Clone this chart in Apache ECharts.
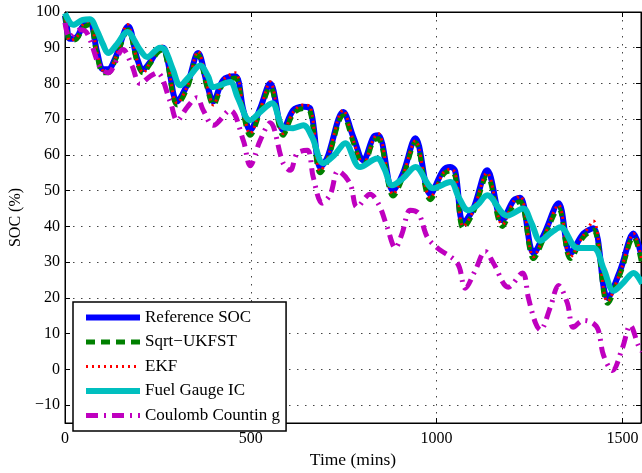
<!DOCTYPE html>
<html>
<head>
<meta charset="utf-8">
<script src="https://cdn.jsdelivr.net/npm/echarts@6/dist/echarts.min.js"></script>
<style>
  html, body { margin: 0; padding: 0; background: #fff; }
  #main { width: 642px; height: 473px; }
</style>
</head>
<body>
<div id="main"></div>
<script>
// [time (mins), SOC (%)]
var refSoc = [[0,99],[5,96],[13,92.5],[32,93],[48,96],[67,97],[86,89],[102,84],[116,84],[135,87],[170,96],[194,87],[210,84],[229,86],[248,89],[264,90],[275,87],[302,75],[330,80],[358,88.5],[382,80],[399,75],[426,81],[458,82],[480,72.5],[498,67],[525,73],[552,80],[587,67],[614,72.5],[641,73.5],[660,73],[687,56.6],[705,59],[749,72],[776,65],[803,58.5],[830,65],[843,65.5],[883,50],[910,55],[943,64.7],[983,49],[1018,55.7],[1037,56.6],[1050,55.5],[1072,41],[1099,45],[1136,55.7],[1177,41.7],[1207,47.3],[1225,48],[1261,32.5],[1290,38],[1328,46.5],[1360,32.5],[1395,38],[1422,39.5],[1460,20],[1495,28],[1530,38],[1553,31]];
var sqrtUkf = [[0,99],[5,95.5],[13,92],[32,92.5],[48,95.5],[67,96.5],[86,88],[102,83],[116,83],[135,86.5],[170,95],[194,86],[210,83],[229,85.5],[248,88.5],[264,89.5],[275,86],[302,74],[330,79],[358,88],[382,79],[399,74],[426,80],[458,81.5],[480,71.5],[498,65.5],[525,72],[552,79],[587,65.5],[614,71.5],[641,73],[660,72],[687,55],[705,58],[749,71],[776,63.5],[803,57],[830,64],[843,64.5],[883,48.5],[910,54],[943,63.5],[983,47.5],[1018,54.5],[1037,55.5],[1050,54],[1072,39.5],[1099,44],[1136,54],[1177,40],[1207,46],[1225,47],[1261,31],[1290,37],[1328,45],[1360,31],[1395,37],[1422,39],[1460,18.5],[1495,27],[1530,37],[1553,29]];
var ekf = [[0,99.5],[5,96],[13,92],[32,93],[48,96.5],[67,97.5],[86,88.5],[102,83.5],[116,83],[135,87],[168,96.5],[194,86.5],[210,83],[229,86],[248,89.5],[264,90.5],[275,86.5],[302,74.5],[330,79.5],[358,89],[382,79.5],[399,74],[426,81],[458,83],[480,72],[498,66],[525,72.5],[552,80.5],[587,66],[614,72],[641,74],[660,73.5],[687,55.5],[705,58.5],[749,72.5],[776,64],[803,57.5],[830,64.5],[843,66],[883,49],[910,54.5],[943,64],[983,48],[1018,55],[1037,56],[1050,55],[1072,40],[1099,44.5],[1136,55],[1177,40.5],[1207,47],[1225,48.5],[1261,31.5],[1290,37.5],[1328,46],[1360,31.5],[1395,37.5],[1422,41.5],[1460,19],[1495,27.5],[1530,38],[1553,30]];
var fuelGauge = [[0,99.7],[22,96.4],[48,97.8],[67,98],[85,95],[102,91],[116,88.5],[140,91],[167,94.4],[202,89.4],[221,87.4],[256,90],[269,89.4],[290,84],[310,79.5],[335,82],[364,85],[385,82],[399,79],[444,80.4],[465,76],[498,69.7],[525,72],[557,74.5],[587,67.8],[614,67.5],[641,68.3],[665,65],[695,57.7],[725,60],[754,63.3],[794,56.6],[840,59],[860,56],[880,51.5],[910,53.5],[943,56.6],[991,50.7],[1037,52.4],[1060,48],[1085,44.5],[1110,46],[1136,48.7],[1190,43],[1233,45],[1255,41],[1279,36],[1305,38],[1333,39.8],[1379,34],[1422,34],[1450,28],[1476,22],[1500,24],[1530,27],[1553,24]];
var coulomb = [[0,97],[13,93],[40,95],[60,94],[94,84.6],[116,83],[156,89.5],[180,85],[202,80],[229,82],[248,83],[283,75],[302,69.7],[329,73.4],[355,76],[372,72.5],[399,68.3],[444,72.5],[480,64],[498,57],[525,64],[552,69],[587,57.7],[606,55.7],[625,60.5],[652,61.3],[668,53.8],[692,46.5],[714,49],[735,55.5],[767,52],[786,45.4],[821,49],[845,46],[867,39.8],[889,34],[907,38],[929,44.5],[951,43.7],[975,37],[1002,34],[1056,29.7],[1077,22.7],[1104,27.7],[1131,33],[1153,29.7],[1193,23],[1231,27],[1247,20],[1266,13],[1279,11],[1306,17.4],[1328,23.5],[1352,18.5],[1368,11.8],[1395,13.7],[1420,13],[1435,11],[1449,4],[1473,-0.3],[1500,6],[1521,12.3],[1543,6.7],[1553,5]];

var seriesNames = ['Reference SOC', 'Sqrt\u2212UKFST', 'EKF', 'Fuel Gauge IC', 'Coulomb Countin g'];
var yTicks = [-10, 0, 10, 20, 30, 40, 50, 60, 70, 80, 90, 100];

var FONT = 'Liberation Serif';
var chart = echarts.init(document.getElementById('main'), null, { renderer: 'canvas' });

var styles = [
  { color: '#0000ff', width: 6, type: 'solid' },
  { color: '#008000', width: 5, type: [9, 6] },
  { color: '#ff0000', width: 3, type: [2, 4] },
  { color: '#00bfbf', width: 6, type: 'solid' },
  { color: '#bf00bf', width: 5, type: [12, 6, 2, 6] }
];
var datas = [refSoc, sqrtUkf, ekf, fuelGauge, coulomb];

var series = seriesNames.map(function (name, i) {
  return {
    name: name,
    type: 'line',
    data: datas[i],
    symbol: 'none',
    smooth: 0.35,
    xAxisIndex: 0,
    yAxisIndex: 0,
    lineStyle: { color: styles[i].color, width: styles[i].width, type: styles[i].type },
    itemStyle: { color: styles[i].color },
    z: 2 + i,
    animation: false
  };
});

function minusFmt(v) {
  return String(v).replace('-', '\u2212');
}

var tickStyle = { show: true, inside: true, length: 5, lineStyle: { color: '#000' } };
var lineStyleAxis = { show: true, onZero: false, lineStyle: { color: '#000', width: 1 } };
var gridDots = { show: true, lineStyle: { color: '#444', width: 1, type: [1.5, 6.5] } };

var option = {
  backgroundColor: '#fff',
  animation: false,
  grid: {
    left: 65, top: 12, right: 1, bottom: 50,
    outerBoundsMode: 'none',
    show: true, borderColor: '#000', borderWidth: 1
  },
  legend: {
    left: 73, top: 302,
    orient: 'vertical',
    itemWidth: 54, itemHeight: 14, itemGap: 7.5,
    padding: [7, 6, 7, 10],
    borderColor: '#000', borderWidth: 1.5,
    backgroundColor: '#fff',
    textStyle: { fontFamily: FONT, fontSize: 17, color: '#000' },
    data: seriesNames.map(function (n, i) {
      return {
        name: n,
        itemStyle: { opacity: 0 },
        lineStyle: { width: styles[i].width, type: styles[i].type, color: styles[i].color }
      };
    })
  },
  xAxis: [{
    type: 'value', min: 0, max: 1550, interval: 500,
    name: 'Time (mins)', nameLocation: 'middle', nameGap: 27,
    nameTextStyle: { fontFamily: FONT, fontSize: 17.5, color: '#000' },
    axisLine: lineStyleAxis, axisTick: tickStyle,
    axisLabel: { fontFamily: FONT, fontSize: 16, color: '#000', margin: 8, showMaxLabel: false,
      formatter: function (v) { return String(v); } },
    splitLine: gridDots
  }, {
    type: 'value', min: 0, max: 1550, interval: 500, position: 'top',
    axisLine: lineStyleAxis, axisTick: tickStyle,
    axisLabel: { show: false }, splitLine: { show: false }
  }],
  yAxis: [{
    type: 'value', min: -15, max: 100,
    name: 'SOC (%)', nameLocation: 'middle', nameGap: 40, nameRotate: 90,
    nameTextStyle: { fontFamily: FONT, fontSize: 16, color: '#000' },
    axisLine: lineStyleAxis,
    axisTick: { show: true, inside: true, length: 5, lineStyle: { color: '#000' }, customValues: yTicks },
    axisLabel: { fontFamily: FONT, fontSize: 16, color: '#000', margin: 5, customValues: yTicks, formatter: minusFmt },
    splitLine: gridDots
  }, {
    type: 'value', min: -15, max: 100, position: 'right',
    axisLine: lineStyleAxis,
    axisTick: { show: true, inside: true, length: 5, lineStyle: { color: '#000' }, customValues: yTicks },
    axisLabel: { show: false }, splitLine: { show: false }
  }],
  series: series
};

chart.setOption(option);
</script>
</body>
</html>
